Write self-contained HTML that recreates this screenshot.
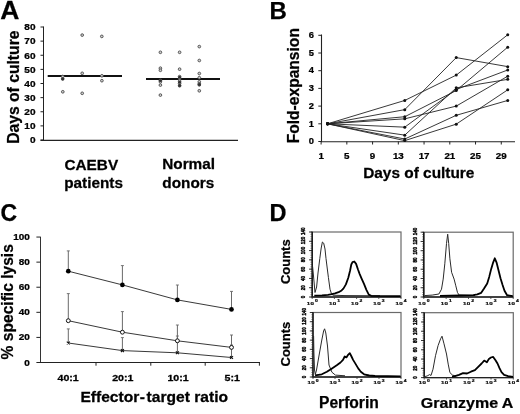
<!DOCTYPE html>
<html><head><meta charset="utf-8"><style>
html,body{margin:0;padding:0;background:#fff;}
svg{display:block;will-change:transform;}
text{font-family:"Liberation Sans",sans-serif;font-weight:bold;stroke:#000;stroke-width:0.25px;}
</style></head><body>
<svg width="520" height="414" viewBox="0 0 520 414">
<rect width="520" height="414" fill="#fff"/>
<text transform="translate(0.3,19) scale(1.06,1.0)" x="0" y="0" font-size="25" text-anchor="start" fill="#000" stroke="#000" stroke-width="0.4">A</text>
<line x1="43.5" y1="26.5" x2="43.5" y2="140.5" stroke="#222" stroke-width="1.0"/>
<line x1="40.5" y1="140.4" x2="238" y2="140.4" stroke="#222" stroke-width="1.1"/>
<line x1="40.5" y1="140.0" x2="43.5" y2="140.0" stroke="#222" stroke-width="1"/>
<text transform="translate(35.5,143.3) scale(1.12,1.0)" x="0" y="0" font-size="9" text-anchor="end" fill="#000" >0</text>
<line x1="40.5" y1="125.875" x2="43.5" y2="125.875" stroke="#222" stroke-width="1"/>
<text transform="translate(35.5,129.175) scale(1.12,1.0)" x="0" y="0" font-size="9" text-anchor="end" fill="#000" >10</text>
<line x1="40.5" y1="111.75" x2="43.5" y2="111.75" stroke="#222" stroke-width="1"/>
<text transform="translate(35.5,115.05) scale(1.12,1.0)" x="0" y="0" font-size="9" text-anchor="end" fill="#000" >20</text>
<line x1="40.5" y1="97.625" x2="43.5" y2="97.625" stroke="#222" stroke-width="1"/>
<text transform="translate(35.5,100.925) scale(1.12,1.0)" x="0" y="0" font-size="9" text-anchor="end" fill="#000" >30</text>
<line x1="40.5" y1="83.5" x2="43.5" y2="83.5" stroke="#222" stroke-width="1"/>
<text transform="translate(35.5,86.8) scale(1.12,1.0)" x="0" y="0" font-size="9" text-anchor="end" fill="#000" >40</text>
<line x1="40.5" y1="69.375" x2="43.5" y2="69.375" stroke="#222" stroke-width="1"/>
<text transform="translate(35.5,72.675) scale(1.12,1.0)" x="0" y="0" font-size="9" text-anchor="end" fill="#000" >50</text>
<line x1="40.5" y1="55.25" x2="43.5" y2="55.25" stroke="#222" stroke-width="1"/>
<text transform="translate(35.5,58.55) scale(1.12,1.0)" x="0" y="0" font-size="9" text-anchor="end" fill="#000" >60</text>
<line x1="40.5" y1="41.125" x2="43.5" y2="41.125" stroke="#222" stroke-width="1"/>
<text transform="translate(35.5,44.425) scale(1.12,1.0)" x="0" y="0" font-size="9" text-anchor="end" fill="#000" >70</text>
<line x1="40.5" y1="27.0" x2="43.5" y2="27.0" stroke="#222" stroke-width="1"/>
<text transform="translate(35.5,30.3) scale(1.12,1.0)" x="0" y="0" font-size="9" text-anchor="end" fill="#000" >80</text>
<text transform="translate(19.4,87.2) rotate(-90) scale(1.0,1.08)" x="0" y="0" font-size="15.7" text-anchor="middle" fill="#000" >Days of culture</text>
<line x1="47.7" y1="76.0" x2="122" y2="76.0" stroke="#111" stroke-width="2.0"/>
<line x1="146" y1="78.9" x2="220" y2="78.9" stroke="#111" stroke-width="2.0"/>
<circle cx="62.7" cy="76.5" r="1.35" fill="#d0d0d0" stroke="#4a4a4a" stroke-width="0.9"/>
<circle cx="62.7" cy="78.8" r="1.35" fill="#d0d0d0" stroke="#4a4a4a" stroke-width="0.9"/>
<circle cx="62.8" cy="91.8" r="1.35" fill="#d0d0d0" stroke="#4a4a4a" stroke-width="0.9"/>
<circle cx="82.2" cy="35.1" r="1.35" fill="#d0d0d0" stroke="#4a4a4a" stroke-width="0.9"/>
<circle cx="82.2" cy="73.3" r="1.35" fill="#d0d0d0" stroke="#4a4a4a" stroke-width="0.9"/>
<circle cx="82.2" cy="93.3" r="1.35" fill="#d0d0d0" stroke="#4a4a4a" stroke-width="0.9"/>
<circle cx="101.8" cy="36.4" r="1.35" fill="#d0d0d0" stroke="#4a4a4a" stroke-width="0.9"/>
<circle cx="101.9" cy="75.8" r="1.35" fill="#d0d0d0" stroke="#4a4a4a" stroke-width="0.9"/>
<circle cx="101.9" cy="80.7" r="1.35" fill="#d0d0d0" stroke="#4a4a4a" stroke-width="0.9"/>
<circle cx="160.4" cy="52.3" r="1.35" fill="#d0d0d0" stroke="#4a4a4a" stroke-width="0.9"/>
<circle cx="160.4" cy="68.2" r="1.35" fill="#d0d0d0" stroke="#4a4a4a" stroke-width="0.9"/>
<circle cx="160.4" cy="70.3" r="1.35" fill="#d0d0d0" stroke="#4a4a4a" stroke-width="0.9"/>
<circle cx="160.4" cy="80.3" r="1.35" fill="#d0d0d0" stroke="#4a4a4a" stroke-width="0.9"/>
<circle cx="160.4" cy="81.8" r="1.35" fill="#d0d0d0" stroke="#4a4a4a" stroke-width="0.9"/>
<circle cx="160.4" cy="85.1" r="1.35" fill="#d0d0d0" stroke="#4a4a4a" stroke-width="0.9"/>
<circle cx="160.4" cy="95.1" r="1.35" fill="#d0d0d0" stroke="#4a4a4a" stroke-width="0.9"/>
<circle cx="179.6" cy="52.3" r="1.35" fill="#d0d0d0" stroke="#4a4a4a" stroke-width="0.9"/>
<circle cx="179.6" cy="69.2" r="1.35" fill="#d0d0d0" stroke="#4a4a4a" stroke-width="0.9"/>
<circle cx="179.6" cy="76.6" r="1.35" fill="#d0d0d0" stroke="#4a4a4a" stroke-width="0.9"/>
<circle cx="179.6" cy="78.8" r="1.35" fill="#d0d0d0" stroke="#4a4a4a" stroke-width="0.9"/>
<circle cx="179.6" cy="81.2" r="1.35" fill="#d0d0d0" stroke="#4a4a4a" stroke-width="0.9"/>
<circle cx="179.6" cy="83.5" r="1.35" fill="#d0d0d0" stroke="#4a4a4a" stroke-width="0.9"/>
<circle cx="179.6" cy="85.8" r="1.35" fill="#d0d0d0" stroke="#4a4a4a" stroke-width="0.9"/>
<circle cx="199.3" cy="46.6" r="1.35" fill="#d0d0d0" stroke="#4a4a4a" stroke-width="0.9"/>
<circle cx="199.3" cy="60.5" r="1.35" fill="#d0d0d0" stroke="#4a4a4a" stroke-width="0.9"/>
<circle cx="199.3" cy="73.5" r="1.35" fill="#d0d0d0" stroke="#4a4a4a" stroke-width="0.9"/>
<circle cx="199.3" cy="77.7" r="1.35" fill="#d0d0d0" stroke="#4a4a4a" stroke-width="0.9"/>
<circle cx="199.3" cy="81.8" r="1.35" fill="#d0d0d0" stroke="#4a4a4a" stroke-width="0.9"/>
<circle cx="199.3" cy="83.8" r="1.35" fill="#d0d0d0" stroke="#4a4a4a" stroke-width="0.9"/>
<circle cx="199.3" cy="84.9" r="1.35" fill="#d0d0d0" stroke="#4a4a4a" stroke-width="0.9"/>
<circle cx="199.3" cy="90.8" r="1.35" fill="#d0d0d0" stroke="#4a4a4a" stroke-width="0.9"/>
<circle cx="160.4" cy="80.6" r="1.5" fill="#333"/>
<circle cx="179.6" cy="77.2" r="1.5" fill="#333"/>
<circle cx="179.6" cy="82.3" r="1.5" fill="#333"/>
<circle cx="179.6" cy="85.6" r="1.5" fill="#333"/>
<circle cx="199.3" cy="84.4" r="1.5" fill="#333"/>
<circle cx="62.7" cy="78.9" r="1.5" fill="#333"/>
<text transform="translate(91.3,170) scale(1.08,1.0)" x="0" y="0" font-size="14.2" text-anchor="middle" fill="#000" >CAEBV</text>
<text transform="translate(93.6,188) scale(1.08,1.0)" x="0" y="0" font-size="14.2" text-anchor="middle" fill="#000" >patients</text>
<text transform="translate(188.6,169) scale(1.08,1.0)" x="0" y="0" font-size="14.2" text-anchor="middle" fill="#000" >Normal</text>
<text transform="translate(188.3,187.5) scale(1.08,1.0)" x="0" y="0" font-size="14.2" text-anchor="middle" fill="#000" >donors</text>
<text x="269.5" y="19" font-size="24" text-anchor="start" fill="#000" stroke="#000" stroke-width="0.4">B</text>
<line x1="321.5" y1="34.5" x2="321.5" y2="142.0" stroke="#222" stroke-width="1.1"/>
<line x1="321.0" y1="141.8" x2="515" y2="141.8" stroke="#222" stroke-width="1.1"/>
<line x1="318.3" y1="141.5" x2="321.5" y2="141.5" stroke="#222" stroke-width="1"/>
<text transform="translate(311.4,144.2) scale(1.12,1.0)" x="0" y="0" font-size="8.3" text-anchor="middle" fill="#000" >0</text>
<line x1="318.3" y1="123.8" x2="321.5" y2="123.8" stroke="#222" stroke-width="1"/>
<text transform="translate(311.4,126.5) scale(1.12,1.0)" x="0" y="0" font-size="8.3" text-anchor="middle" fill="#000" >1</text>
<line x1="318.3" y1="106.1" x2="321.5" y2="106.1" stroke="#222" stroke-width="1"/>
<text transform="translate(311.4,108.8) scale(1.12,1.0)" x="0" y="0" font-size="8.3" text-anchor="middle" fill="#000" >2</text>
<line x1="318.3" y1="88.4" x2="321.5" y2="88.4" stroke="#222" stroke-width="1"/>
<text transform="translate(311.4,91.10000000000001) scale(1.12,1.0)" x="0" y="0" font-size="8.3" text-anchor="middle" fill="#000" >3</text>
<line x1="318.3" y1="70.7" x2="321.5" y2="70.7" stroke="#222" stroke-width="1"/>
<text transform="translate(311.4,73.4) scale(1.12,1.0)" x="0" y="0" font-size="8.3" text-anchor="middle" fill="#000" >4</text>
<line x1="318.3" y1="53.0" x2="321.5" y2="53.0" stroke="#222" stroke-width="1"/>
<text transform="translate(311.4,55.7) scale(1.12,1.0)" x="0" y="0" font-size="8.3" text-anchor="middle" fill="#000" >5</text>
<line x1="318.3" y1="35.30000000000001" x2="321.5" y2="35.30000000000001" stroke="#222" stroke-width="1"/>
<text transform="translate(311.4,38.000000000000014) scale(1.12,1.0)" x="0" y="0" font-size="8.3" text-anchor="middle" fill="#000" >6</text>
<line x1="321.1" y1="141.5" x2="321.1" y2="144.5" stroke="#222" stroke-width="1"/>
<text transform="translate(321.1,159.3) scale(1.15,1.0)" x="0" y="0" font-size="8.5" text-anchor="middle" fill="#000" >1</text>
<line x1="346.84000000000003" y1="141.5" x2="346.84000000000003" y2="144.5" stroke="#222" stroke-width="1"/>
<text transform="translate(346.84000000000003,159.3) scale(1.15,1.0)" x="0" y="0" font-size="8.5" text-anchor="middle" fill="#000" >5</text>
<line x1="372.58000000000004" y1="141.5" x2="372.58000000000004" y2="144.5" stroke="#222" stroke-width="1"/>
<text transform="translate(372.58000000000004,159.3) scale(1.15,1.0)" x="0" y="0" font-size="8.5" text-anchor="middle" fill="#000" >9</text>
<line x1="398.32000000000005" y1="141.5" x2="398.32000000000005" y2="144.5" stroke="#222" stroke-width="1"/>
<text transform="translate(398.32000000000005,159.3) scale(1.15,1.0)" x="0" y="0" font-size="8.5" text-anchor="middle" fill="#000" >13</text>
<line x1="424.06" y1="141.5" x2="424.06" y2="144.5" stroke="#222" stroke-width="1"/>
<text transform="translate(424.06,159.3) scale(1.15,1.0)" x="0" y="0" font-size="8.5" text-anchor="middle" fill="#000" >17</text>
<line x1="449.8" y1="141.5" x2="449.8" y2="144.5" stroke="#222" stroke-width="1"/>
<text transform="translate(449.8,159.3) scale(1.15,1.0)" x="0" y="0" font-size="8.5" text-anchor="middle" fill="#000" >21</text>
<line x1="475.54" y1="141.5" x2="475.54" y2="144.5" stroke="#222" stroke-width="1"/>
<text transform="translate(475.54,159.3) scale(1.15,1.0)" x="0" y="0" font-size="8.5" text-anchor="middle" fill="#000" >25</text>
<line x1="501.28" y1="141.5" x2="501.28" y2="144.5" stroke="#222" stroke-width="1"/>
<text transform="translate(501.28,159.3) scale(1.15,1.0)" x="0" y="0" font-size="8.5" text-anchor="middle" fill="#000" >29</text>
<text transform="translate(298.6,85.7) rotate(-90) scale(1.0,1.0)" x="0" y="0" font-size="15.6" text-anchor="middle" fill="#000" >Fold-expansion</text>
<text transform="translate(418.8,177.7) scale(1.07,1.0)" x="0" y="0" font-size="14.4" text-anchor="middle" fill="#000" >Days of culture</text>
<polyline points="327.54,123.80 404.75,100.44 456.24,75.12 507.72,34.77" fill="none" stroke="#222" stroke-width="0.9"/>
<polyline points="327.54,123.80 404.75,109.64 456.24,57.60 507.72,66.63" fill="none" stroke="#222" stroke-width="0.9"/>
<polyline points="327.54,123.80 404.75,116.72 456.24,90.52 507.72,47.16" fill="none" stroke="#222" stroke-width="0.9"/>
<polyline points="327.54,123.80 404.75,118.84 456.24,106.10 507.72,76.19" fill="none" stroke="#222" stroke-width="0.9"/>
<polyline points="327.54,123.80 404.75,127.16 456.24,89.46 507.72,69.99" fill="none" stroke="#222" stroke-width="0.9"/>
<polyline points="327.54,123.80 404.75,135.13 456.24,87.87 507.72,79.37" fill="none" stroke="#222" stroke-width="0.9"/>
<polyline points="327.54,123.80 404.75,139.02 456.24,115.30 507.72,100.44" fill="none" stroke="#222" stroke-width="0.9"/>
<polyline points="327.54,123.80 404.75,140.62 456.24,124.15 507.72,89.82" fill="none" stroke="#222" stroke-width="0.9"/>
<circle cx="327.54" cy="123.80" r="1.5" fill="#111"/>
<circle cx="404.75" cy="100.44" r="1.5" fill="#111"/>
<circle cx="456.24" cy="75.12" r="1.5" fill="#111"/>
<circle cx="507.72" cy="34.77" r="1.5" fill="#111"/>
<circle cx="327.54" cy="123.80" r="1.5" fill="#111"/>
<circle cx="404.75" cy="109.64" r="1.5" fill="#111"/>
<circle cx="456.24" cy="57.60" r="1.5" fill="#111"/>
<circle cx="507.72" cy="66.63" r="1.5" fill="#111"/>
<circle cx="327.54" cy="123.80" r="1.5" fill="#111"/>
<circle cx="404.75" cy="116.72" r="1.5" fill="#111"/>
<circle cx="456.24" cy="90.52" r="1.5" fill="#111"/>
<circle cx="507.72" cy="47.16" r="1.5" fill="#111"/>
<circle cx="327.54" cy="123.80" r="1.5" fill="#111"/>
<circle cx="404.75" cy="118.84" r="1.5" fill="#111"/>
<circle cx="456.24" cy="106.10" r="1.5" fill="#111"/>
<circle cx="507.72" cy="76.19" r="1.5" fill="#111"/>
<circle cx="327.54" cy="123.80" r="1.5" fill="#111"/>
<circle cx="404.75" cy="127.16" r="1.5" fill="#111"/>
<circle cx="456.24" cy="89.46" r="1.5" fill="#111"/>
<circle cx="507.72" cy="69.99" r="1.5" fill="#111"/>
<circle cx="327.54" cy="123.80" r="1.5" fill="#111"/>
<circle cx="404.75" cy="135.13" r="1.5" fill="#111"/>
<circle cx="456.24" cy="87.87" r="1.5" fill="#111"/>
<circle cx="507.72" cy="79.37" r="1.5" fill="#111"/>
<circle cx="327.54" cy="123.80" r="1.5" fill="#111"/>
<circle cx="404.75" cy="139.02" r="1.5" fill="#111"/>
<circle cx="456.24" cy="115.30" r="1.5" fill="#111"/>
<circle cx="507.72" cy="100.44" r="1.5" fill="#111"/>
<circle cx="327.54" cy="123.80" r="1.5" fill="#111"/>
<circle cx="404.75" cy="140.62" r="1.5" fill="#111"/>
<circle cx="456.24" cy="124.15" r="1.5" fill="#111"/>
<circle cx="507.72" cy="89.82" r="1.5" fill="#111"/>
<text x="0.5" y="221.4" font-size="23" text-anchor="start" fill="#000" stroke="#000" stroke-width="0.4">C</text>
<line x1="40.5" y1="236.8" x2="40.5" y2="363.0" stroke="#333" stroke-width="1.0"/>
<line x1="40.0" y1="362.5" x2="260" y2="362.5" stroke="#222" stroke-width="1.1"/>
<line x1="36.4" y1="362.5" x2="40.5" y2="362.5" stroke="#222" stroke-width="1"/>
<text transform="translate(29.8,365.5) scale(1.2,1.0)" x="0" y="0" font-size="8.3" text-anchor="end" fill="#000" >0</text>
<line x1="36.4" y1="337.41" x2="40.5" y2="337.41" stroke="#222" stroke-width="1"/>
<text transform="translate(29.8,340.41) scale(1.2,1.0)" x="0" y="0" font-size="8.3" text-anchor="end" fill="#000" >20</text>
<line x1="36.4" y1="312.32" x2="40.5" y2="312.32" stroke="#222" stroke-width="1"/>
<text transform="translate(29.8,315.32) scale(1.2,1.0)" x="0" y="0" font-size="8.3" text-anchor="end" fill="#000" >40</text>
<line x1="36.4" y1="287.23" x2="40.5" y2="287.23" stroke="#222" stroke-width="1"/>
<text transform="translate(29.8,290.23) scale(1.2,1.0)" x="0" y="0" font-size="8.3" text-anchor="end" fill="#000" >60</text>
<line x1="36.4" y1="262.14" x2="40.5" y2="262.14" stroke="#222" stroke-width="1"/>
<text transform="translate(29.8,265.14) scale(1.2,1.0)" x="0" y="0" font-size="8.3" text-anchor="end" fill="#000" >80</text>
<line x1="36.4" y1="237.05" x2="40.5" y2="237.05" stroke="#222" stroke-width="1"/>
<text transform="translate(29.8,240.05) scale(1.2,1.0)" x="0" y="0" font-size="8.3" text-anchor="end" fill="#000" >100</text>
<line x1="96" y1="362.5" x2="96" y2="365.7" stroke="#222" stroke-width="1"/>
<line x1="150.8" y1="362.5" x2="150.8" y2="365.7" stroke="#222" stroke-width="1"/>
<line x1="205.2" y1="362.5" x2="205.2" y2="365.7" stroke="#222" stroke-width="1"/>
<line x1="259.4" y1="362.5" x2="259.4" y2="365.7" stroke="#222" stroke-width="1"/>
<text transform="translate(68.1,381.3) scale(1.25,1.0)" x="0" y="0" font-size="8.5" text-anchor="middle" fill="#000" >40:1</text>
<text transform="translate(122.8,381.3) scale(1.25,1.0)" x="0" y="0" font-size="8.5" text-anchor="middle" fill="#000" >20:1</text>
<text transform="translate(178,381.3) scale(1.25,1.0)" x="0" y="0" font-size="8.5" text-anchor="middle" fill="#000" >10:1</text>
<text transform="translate(232.2,381.3) scale(1.25,1.0)" x="0" y="0" font-size="8.5" text-anchor="middle" fill="#000" >5:1</text>
<text transform="translate(12.6,301.8) rotate(-90) scale(1.0,1.0)" x="0" y="0" font-size="15.6" text-anchor="middle" fill="#000" >% specific lysis</text>
<text transform="translate(154.2,402) scale(1.115,1.0)" x="0" y="0" font-size="14" text-anchor="middle" fill="#000" >Effector<tspan dx="0.4">-</tspan><tspan dx="1.4">target ratio</tspan></text>
<line x1="68.3" y1="271.2" x2="68.3" y2="250.9" stroke="#6a6a6a" stroke-width="1.0"/>
<line x1="66.8" y1="250.9" x2="69.8" y2="250.9" stroke="#6a6a6a" stroke-width="0.9"/>
<line x1="122.4" y1="284.9" x2="122.4" y2="265.6" stroke="#6a6a6a" stroke-width="1.0"/>
<line x1="120.9" y1="265.6" x2="123.9" y2="265.6" stroke="#6a6a6a" stroke-width="0.9"/>
<line x1="177.4" y1="299.9" x2="177.4" y2="285" stroke="#6a6a6a" stroke-width="1.0"/>
<line x1="175.9" y1="285" x2="178.9" y2="285" stroke="#6a6a6a" stroke-width="0.9"/>
<line x1="231.5" y1="309.4" x2="231.5" y2="291.4" stroke="#6a6a6a" stroke-width="1.0"/>
<line x1="230.0" y1="291.4" x2="233.0" y2="291.4" stroke="#6a6a6a" stroke-width="0.9"/>
<line x1="68.3" y1="320.7" x2="68.3" y2="293.6" stroke="#6a6a6a" stroke-width="1.0"/>
<line x1="66.8" y1="293.6" x2="69.8" y2="293.6" stroke="#6a6a6a" stroke-width="0.9"/>
<line x1="122.4" y1="332.2" x2="122.4" y2="311.6" stroke="#6a6a6a" stroke-width="1.0"/>
<line x1="120.9" y1="311.6" x2="123.9" y2="311.6" stroke="#6a6a6a" stroke-width="0.9"/>
<line x1="177.4" y1="340.8" x2="177.4" y2="325" stroke="#6a6a6a" stroke-width="1.0"/>
<line x1="175.9" y1="325" x2="178.9" y2="325" stroke="#6a6a6a" stroke-width="0.9"/>
<line x1="231.5" y1="347.4" x2="231.5" y2="335" stroke="#6a6a6a" stroke-width="1.0"/>
<line x1="230.0" y1="335" x2="233.0" y2="335" stroke="#6a6a6a" stroke-width="0.9"/>
<line x1="68.3" y1="343" x2="68.3" y2="328.9" stroke="#6a6a6a" stroke-width="1.0"/>
<line x1="66.8" y1="328.9" x2="69.8" y2="328.9" stroke="#6a6a6a" stroke-width="0.9"/>
<line x1="122.4" y1="350.6" x2="122.4" y2="337.6" stroke="#6a6a6a" stroke-width="1.0"/>
<line x1="120.9" y1="337.6" x2="123.9" y2="337.6" stroke="#6a6a6a" stroke-width="0.9"/>
<line x1="177.4" y1="352.8" x2="177.4" y2="336" stroke="#6a6a6a" stroke-width="1.0"/>
<line x1="175.9" y1="336" x2="178.9" y2="336" stroke="#6a6a6a" stroke-width="0.9"/>
<line x1="231.5" y1="357.5" x2="231.5" y2="345" stroke="#6a6a6a" stroke-width="1.0"/>
<line x1="230.0" y1="345" x2="233.0" y2="345" stroke="#6a6a6a" stroke-width="0.9"/>
<polyline points="68.3,271.2 122.4,284.9 177.4,299.9 231.5,309.4" fill="none" stroke="#222" stroke-width="0.9"/>
<polyline points="68.3,320.7 122.4,332.2 177.4,340.8 231.5,347.4" fill="none" stroke="#222" stroke-width="0.9"/>
<polyline points="68.3,343 122.4,350.6 177.4,352.8 231.5,357.5" fill="none" stroke="#222" stroke-width="0.9"/>
<circle cx="68.3" cy="271.2" r="2.35" fill="#000"/>
<circle cx="122.4" cy="284.9" r="2.35" fill="#000"/>
<circle cx="177.4" cy="299.9" r="2.35" fill="#000"/>
<circle cx="231.5" cy="309.4" r="2.35" fill="#000"/>
<circle cx="68.3" cy="320.7" r="1.95" fill="#fff" stroke="#111" stroke-width="1"/>
<circle cx="122.4" cy="332.2" r="1.95" fill="#fff" stroke="#111" stroke-width="1"/>
<circle cx="177.4" cy="340.8" r="1.95" fill="#fff" stroke="#111" stroke-width="1"/>
<circle cx="231.5" cy="347.4" r="1.95" fill="#fff" stroke="#111" stroke-width="1"/>
<path d="M66.8,341.6L69.8,344.4M66.8,344.4L69.8,341.6" stroke="#111" stroke-width="1.1"/>
<path d="M120.9,349.20000000000005L123.9,352.0M120.9,352.0L123.9,349.20000000000005" stroke="#111" stroke-width="1.1"/>
<path d="M175.9,351.40000000000003L178.9,354.2M175.9,354.2L178.9,351.40000000000003" stroke="#111" stroke-width="1.1"/>
<path d="M230.0,356.1L233.0,358.9M230.0,358.9L233.0,356.1" stroke="#111" stroke-width="1.1"/>
<text x="269.6" y="221" font-size="23.5" text-anchor="start" fill="#000" stroke="#000" stroke-width="0.4">D</text>
<rect x="312.2" y="232" width="88.80000000000001" height="65" fill="none" stroke="#6a6a6a" stroke-width="1.2"/>
<line x1="310.4" y1="297.0" x2="312.2" y2="297.0" stroke="#555" stroke-width="0.6"/>
<line x1="310.4" y1="294.67857142857144" x2="312.2" y2="294.67857142857144" stroke="#555" stroke-width="0.6"/>
<line x1="310.4" y1="292.35714285714283" x2="312.2" y2="292.35714285714283" stroke="#555" stroke-width="0.6"/>
<line x1="310.4" y1="290.0357142857143" x2="312.2" y2="290.0357142857143" stroke="#555" stroke-width="0.6"/>
<line x1="310.4" y1="287.7142857142857" x2="312.2" y2="287.7142857142857" stroke="#555" stroke-width="0.6"/>
<line x1="310.4" y1="285.39285714285717" x2="312.2" y2="285.39285714285717" stroke="#555" stroke-width="0.6"/>
<line x1="310.4" y1="283.07142857142856" x2="312.2" y2="283.07142857142856" stroke="#555" stroke-width="0.6"/>
<line x1="310.4" y1="280.75" x2="312.2" y2="280.75" stroke="#555" stroke-width="0.6"/>
<line x1="310.4" y1="278.42857142857144" x2="312.2" y2="278.42857142857144" stroke="#555" stroke-width="0.6"/>
<line x1="310.4" y1="276.10714285714283" x2="312.2" y2="276.10714285714283" stroke="#555" stroke-width="0.6"/>
<line x1="310.4" y1="273.7857142857143" x2="312.2" y2="273.7857142857143" stroke="#555" stroke-width="0.6"/>
<line x1="310.4" y1="271.4642857142857" x2="312.2" y2="271.4642857142857" stroke="#555" stroke-width="0.6"/>
<line x1="310.4" y1="269.14285714285717" x2="312.2" y2="269.14285714285717" stroke="#555" stroke-width="0.6"/>
<line x1="310.4" y1="266.82142857142856" x2="312.2" y2="266.82142857142856" stroke="#555" stroke-width="0.6"/>
<line x1="310.4" y1="264.5" x2="312.2" y2="264.5" stroke="#555" stroke-width="0.6"/>
<line x1="310.4" y1="262.17857142857144" x2="312.2" y2="262.17857142857144" stroke="#555" stroke-width="0.6"/>
<line x1="310.4" y1="259.85714285714283" x2="312.2" y2="259.85714285714283" stroke="#555" stroke-width="0.6"/>
<line x1="310.4" y1="257.5357142857143" x2="312.2" y2="257.5357142857143" stroke="#555" stroke-width="0.6"/>
<line x1="310.4" y1="255.21428571428572" x2="312.2" y2="255.21428571428572" stroke="#555" stroke-width="0.6"/>
<line x1="310.4" y1="252.89285714285714" x2="312.2" y2="252.89285714285714" stroke="#555" stroke-width="0.6"/>
<line x1="310.4" y1="250.57142857142856" x2="312.2" y2="250.57142857142856" stroke="#555" stroke-width="0.6"/>
<line x1="310.4" y1="248.25" x2="312.2" y2="248.25" stroke="#555" stroke-width="0.6"/>
<line x1="310.4" y1="245.92857142857144" x2="312.2" y2="245.92857142857144" stroke="#555" stroke-width="0.6"/>
<line x1="310.4" y1="243.60714285714286" x2="312.2" y2="243.60714285714286" stroke="#555" stroke-width="0.6"/>
<line x1="310.4" y1="241.28571428571428" x2="312.2" y2="241.28571428571428" stroke="#555" stroke-width="0.6"/>
<line x1="310.4" y1="238.96428571428572" x2="312.2" y2="238.96428571428572" stroke="#555" stroke-width="0.6"/>
<line x1="310.4" y1="236.64285714285714" x2="312.2" y2="236.64285714285714" stroke="#555" stroke-width="0.6"/>
<line x1="310.4" y1="234.32142857142856" x2="312.2" y2="234.32142857142856" stroke="#555" stroke-width="0.6"/>
<line x1="310.4" y1="232.0" x2="312.2" y2="232.0" stroke="#555" stroke-width="0.6"/>
<line x1="309.0" y1="297.0" x2="312.2" y2="297.0" stroke="#222" stroke-width="0.9"/>
<text transform="translate(305.0,297.0) rotate(-90) scale(1.0,1.25)" x="0" y="0" font-size="4.5" text-anchor="middle" fill="#000" style="stroke-width:0.35px">0</text>
<line x1="309.0" y1="287.7142857142857" x2="312.2" y2="287.7142857142857" stroke="#222" stroke-width="0.9"/>
<text transform="translate(305.0,287.7142857142857) rotate(-90) scale(1.0,1.25)" x="0" y="0" font-size="4.5" text-anchor="middle" fill="#000" style="stroke-width:0.35px">20</text>
<line x1="309.0" y1="278.42857142857144" x2="312.2" y2="278.42857142857144" stroke="#222" stroke-width="0.9"/>
<text transform="translate(305.0,278.42857142857144) rotate(-90) scale(1.0,1.25)" x="0" y="0" font-size="4.5" text-anchor="middle" fill="#000" style="stroke-width:0.35px">40</text>
<line x1="309.0" y1="269.14285714285717" x2="312.2" y2="269.14285714285717" stroke="#222" stroke-width="0.9"/>
<text transform="translate(305.0,269.14285714285717) rotate(-90) scale(1.0,1.25)" x="0" y="0" font-size="4.5" text-anchor="middle" fill="#000" style="stroke-width:0.35px">60</text>
<line x1="309.0" y1="259.85714285714283" x2="312.2" y2="259.85714285714283" stroke="#222" stroke-width="0.9"/>
<text transform="translate(305.0,259.85714285714283) rotate(-90) scale(1.0,1.25)" x="0" y="0" font-size="4.5" text-anchor="middle" fill="#000" style="stroke-width:0.35px">80</text>
<line x1="309.0" y1="250.57142857142856" x2="312.2" y2="250.57142857142856" stroke="#222" stroke-width="0.9"/>
<text transform="translate(305.0,250.57142857142856) rotate(-90) scale(1.0,1.25)" x="0" y="0" font-size="4.5" text-anchor="middle" fill="#000" style="stroke-width:0.35px">100</text>
<line x1="309.0" y1="241.28571428571428" x2="312.2" y2="241.28571428571428" stroke="#222" stroke-width="0.9"/>
<text transform="translate(305.0,240.48571428571427) rotate(-90) scale(1.0,1.25)" x="0" y="0" font-size="4.5" text-anchor="middle" fill="#000" style="stroke-width:0.35px">120</text>
<line x1="309.0" y1="232.0" x2="312.2" y2="232.0" stroke="#222" stroke-width="0.9"/>
<text transform="translate(305.0,231.2) rotate(-90) scale(1.0,1.25)" x="0" y="0" font-size="4.5" text-anchor="middle" fill="#000" style="stroke-width:0.35px">140</text>
<line x1="312.2" y1="231.7" x2="312.2" y2="297.5" stroke="#111" stroke-width="1.4"/>
<line x1="312.2" y1="297" x2="401" y2="297" stroke="#222" stroke-width="1.3"/>
<line x1="312.2" y1="297" x2="312.2" y2="299" stroke="#333" stroke-width="0.8"/>
<text transform="translate(312.5,304.7) scale(1.4,1)" font-size="4.4" letter-spacing="0.3" text-anchor="middle" fill="#111" style="stroke-width:0.2px">10<tspan font-size="3.6" dx="0.5" dy="-2.3">0</tspan></text>
<line x1="334.4" y1="297" x2="334.4" y2="299" stroke="#333" stroke-width="0.8"/>
<text transform="translate(334.7,304.7) scale(1.4,1)" font-size="4.4" letter-spacing="0.3" text-anchor="middle" fill="#111" style="stroke-width:0.2px">10<tspan font-size="3.6" dx="0.5" dy="-2.3">1</tspan></text>
<line x1="356.6" y1="297" x2="356.6" y2="299" stroke="#333" stroke-width="0.8"/>
<text transform="translate(356.9,304.7) scale(1.4,1)" font-size="4.4" letter-spacing="0.3" text-anchor="middle" fill="#111" style="stroke-width:0.2px">10<tspan font-size="3.6" dx="0.5" dy="-2.3">2</tspan></text>
<line x1="378.8" y1="297" x2="378.8" y2="299" stroke="#333" stroke-width="0.8"/>
<text transform="translate(379.1,304.7) scale(1.4,1)" font-size="4.4" letter-spacing="0.3" text-anchor="middle" fill="#111" style="stroke-width:0.2px">10<tspan font-size="3.6" dx="0.5" dy="-2.3">3</tspan></text>
<line x1="401.0" y1="297" x2="401.0" y2="299" stroke="#333" stroke-width="0.8"/>
<text transform="translate(401.3,304.7) scale(1.4,1)" font-size="4.4" letter-spacing="0.3" text-anchor="middle" fill="#111" style="stroke-width:0.2px">10<tspan font-size="3.6" dx="0.5" dy="-2.3">4</tspan></text>
<rect x="423.8" y="232.2" width="89.40000000000003" height="64.80000000000001" fill="none" stroke="#6a6a6a" stroke-width="1.2"/>
<line x1="422.0" y1="297.0" x2="423.8" y2="297.0" stroke="#555" stroke-width="0.6"/>
<line x1="422.0" y1="294.6857142857143" x2="423.8" y2="294.6857142857143" stroke="#555" stroke-width="0.6"/>
<line x1="422.0" y1="292.37142857142857" x2="423.8" y2="292.37142857142857" stroke="#555" stroke-width="0.6"/>
<line x1="422.0" y1="290.0571428571429" x2="423.8" y2="290.0571428571429" stroke="#555" stroke-width="0.6"/>
<line x1="422.0" y1="287.74285714285713" x2="423.8" y2="287.74285714285713" stroke="#555" stroke-width="0.6"/>
<line x1="422.0" y1="285.42857142857144" x2="423.8" y2="285.42857142857144" stroke="#555" stroke-width="0.6"/>
<line x1="422.0" y1="283.1142857142857" x2="423.8" y2="283.1142857142857" stroke="#555" stroke-width="0.6"/>
<line x1="422.0" y1="280.8" x2="423.8" y2="280.8" stroke="#555" stroke-width="0.6"/>
<line x1="422.0" y1="278.48571428571427" x2="423.8" y2="278.48571428571427" stroke="#555" stroke-width="0.6"/>
<line x1="422.0" y1="276.1714285714286" x2="423.8" y2="276.1714285714286" stroke="#555" stroke-width="0.6"/>
<line x1="422.0" y1="273.85714285714283" x2="423.8" y2="273.85714285714283" stroke="#555" stroke-width="0.6"/>
<line x1="422.0" y1="271.54285714285714" x2="423.8" y2="271.54285714285714" stroke="#555" stroke-width="0.6"/>
<line x1="422.0" y1="269.2285714285714" x2="423.8" y2="269.2285714285714" stroke="#555" stroke-width="0.6"/>
<line x1="422.0" y1="266.9142857142857" x2="423.8" y2="266.9142857142857" stroke="#555" stroke-width="0.6"/>
<line x1="422.0" y1="264.6" x2="423.8" y2="264.6" stroke="#555" stroke-width="0.6"/>
<line x1="422.0" y1="262.2857142857143" x2="423.8" y2="262.2857142857143" stroke="#555" stroke-width="0.6"/>
<line x1="422.0" y1="259.9714285714286" x2="423.8" y2="259.9714285714286" stroke="#555" stroke-width="0.6"/>
<line x1="422.0" y1="257.65714285714284" x2="423.8" y2="257.65714285714284" stroke="#555" stroke-width="0.6"/>
<line x1="422.0" y1="255.34285714285716" x2="423.8" y2="255.34285714285716" stroke="#555" stroke-width="0.6"/>
<line x1="422.0" y1="253.0285714285714" x2="423.8" y2="253.0285714285714" stroke="#555" stroke-width="0.6"/>
<line x1="422.0" y1="250.71428571428572" x2="423.8" y2="250.71428571428572" stroke="#555" stroke-width="0.6"/>
<line x1="422.0" y1="248.39999999999998" x2="423.8" y2="248.39999999999998" stroke="#555" stroke-width="0.6"/>
<line x1="422.0" y1="246.0857142857143" x2="423.8" y2="246.0857142857143" stroke="#555" stroke-width="0.6"/>
<line x1="422.0" y1="243.77142857142854" x2="423.8" y2="243.77142857142854" stroke="#555" stroke-width="0.6"/>
<line x1="422.0" y1="241.45714285714286" x2="423.8" y2="241.45714285714286" stroke="#555" stroke-width="0.6"/>
<line x1="422.0" y1="239.14285714285714" x2="423.8" y2="239.14285714285714" stroke="#555" stroke-width="0.6"/>
<line x1="422.0" y1="236.82857142857142" x2="423.8" y2="236.82857142857142" stroke="#555" stroke-width="0.6"/>
<line x1="422.0" y1="234.5142857142857" x2="423.8" y2="234.5142857142857" stroke="#555" stroke-width="0.6"/>
<line x1="422.0" y1="232.2" x2="423.8" y2="232.2" stroke="#555" stroke-width="0.6"/>
<line x1="420.6" y1="297.0" x2="423.8" y2="297.0" stroke="#222" stroke-width="0.9"/>
<text transform="translate(416.6,297.0) rotate(-90) scale(1.0,1.25)" x="0" y="0" font-size="4.5" text-anchor="middle" fill="#000" style="stroke-width:0.35px">0</text>
<line x1="420.6" y1="287.74285714285713" x2="423.8" y2="287.74285714285713" stroke="#222" stroke-width="0.9"/>
<text transform="translate(416.6,287.74285714285713) rotate(-90) scale(1.0,1.25)" x="0" y="0" font-size="4.5" text-anchor="middle" fill="#000" style="stroke-width:0.35px">20</text>
<line x1="420.6" y1="278.48571428571427" x2="423.8" y2="278.48571428571427" stroke="#222" stroke-width="0.9"/>
<text transform="translate(416.6,278.48571428571427) rotate(-90) scale(1.0,1.25)" x="0" y="0" font-size="4.5" text-anchor="middle" fill="#000" style="stroke-width:0.35px">40</text>
<line x1="420.6" y1="269.2285714285714" x2="423.8" y2="269.2285714285714" stroke="#222" stroke-width="0.9"/>
<text transform="translate(416.6,269.2285714285714) rotate(-90) scale(1.0,1.25)" x="0" y="0" font-size="4.5" text-anchor="middle" fill="#000" style="stroke-width:0.35px">60</text>
<line x1="420.6" y1="259.9714285714286" x2="423.8" y2="259.9714285714286" stroke="#222" stroke-width="0.9"/>
<text transform="translate(416.6,259.9714285714286) rotate(-90) scale(1.0,1.25)" x="0" y="0" font-size="4.5" text-anchor="middle" fill="#000" style="stroke-width:0.35px">80</text>
<line x1="420.6" y1="250.71428571428572" x2="423.8" y2="250.71428571428572" stroke="#222" stroke-width="0.9"/>
<text transform="translate(416.6,250.71428571428572) rotate(-90) scale(1.0,1.25)" x="0" y="0" font-size="4.5" text-anchor="middle" fill="#000" style="stroke-width:0.35px">100</text>
<line x1="420.6" y1="241.45714285714286" x2="423.8" y2="241.45714285714286" stroke="#222" stroke-width="0.9"/>
<text transform="translate(416.6,240.65714285714284) rotate(-90) scale(1.0,1.25)" x="0" y="0" font-size="4.5" text-anchor="middle" fill="#000" style="stroke-width:0.35px">120</text>
<line x1="420.6" y1="232.2" x2="423.8" y2="232.2" stroke="#222" stroke-width="0.9"/>
<text transform="translate(416.6,231.39999999999998) rotate(-90) scale(1.0,1.25)" x="0" y="0" font-size="4.5" text-anchor="middle" fill="#000" style="stroke-width:0.35px">140</text>
<line x1="423.8" y1="231.89999999999998" x2="423.8" y2="297.5" stroke="#111" stroke-width="1.4"/>
<line x1="423.8" y1="297" x2="513.2" y2="297" stroke="#222" stroke-width="1.3"/>
<line x1="423.8" y1="297" x2="423.8" y2="299" stroke="#333" stroke-width="0.8"/>
<text transform="translate(424.1,304.7) scale(1.4,1)" font-size="4.4" letter-spacing="0.3" text-anchor="middle" fill="#111" style="stroke-width:0.2px">10<tspan font-size="3.6" dx="0.5" dy="-2.3">0</tspan></text>
<line x1="446.15000000000003" y1="297" x2="446.15000000000003" y2="299" stroke="#333" stroke-width="0.8"/>
<text transform="translate(446.5,304.7) scale(1.4,1)" font-size="4.4" letter-spacing="0.3" text-anchor="middle" fill="#111" style="stroke-width:0.2px">10<tspan font-size="3.6" dx="0.5" dy="-2.3">1</tspan></text>
<line x1="468.5" y1="297" x2="468.5" y2="299" stroke="#333" stroke-width="0.8"/>
<text transform="translate(468.8,304.7) scale(1.4,1)" font-size="4.4" letter-spacing="0.3" text-anchor="middle" fill="#111" style="stroke-width:0.2px">10<tspan font-size="3.6" dx="0.5" dy="-2.3">2</tspan></text>
<line x1="490.85" y1="297" x2="490.85" y2="299" stroke="#333" stroke-width="0.8"/>
<text transform="translate(491.2,304.7) scale(1.4,1)" font-size="4.4" letter-spacing="0.3" text-anchor="middle" fill="#111" style="stroke-width:0.2px">10<tspan font-size="3.6" dx="0.5" dy="-2.3">3</tspan></text>
<line x1="513.2" y1="297" x2="513.2" y2="299" stroke="#333" stroke-width="0.8"/>
<text transform="translate(513.5,304.7) scale(1.4,1)" font-size="4.4" letter-spacing="0.3" text-anchor="middle" fill="#111" style="stroke-width:0.2px">10<tspan font-size="3.6" dx="0.5" dy="-2.3">4</tspan></text>
<rect x="313" y="312.5" width="88" height="64.5" fill="none" stroke="#6a6a6a" stroke-width="1.2"/>
<line x1="311.2" y1="377.0" x2="313" y2="377.0" stroke="#555" stroke-width="0.6"/>
<line x1="311.2" y1="374.69642857142856" x2="313" y2="374.69642857142856" stroke="#555" stroke-width="0.6"/>
<line x1="311.2" y1="372.39285714285717" x2="313" y2="372.39285714285717" stroke="#555" stroke-width="0.6"/>
<line x1="311.2" y1="370.0892857142857" x2="313" y2="370.0892857142857" stroke="#555" stroke-width="0.6"/>
<line x1="311.2" y1="367.7857142857143" x2="313" y2="367.7857142857143" stroke="#555" stroke-width="0.6"/>
<line x1="311.2" y1="365.48214285714283" x2="313" y2="365.48214285714283" stroke="#555" stroke-width="0.6"/>
<line x1="311.2" y1="363.17857142857144" x2="313" y2="363.17857142857144" stroke="#555" stroke-width="0.6"/>
<line x1="311.2" y1="360.875" x2="313" y2="360.875" stroke="#555" stroke-width="0.6"/>
<line x1="311.2" y1="358.57142857142856" x2="313" y2="358.57142857142856" stroke="#555" stroke-width="0.6"/>
<line x1="311.2" y1="356.26785714285717" x2="313" y2="356.26785714285717" stroke="#555" stroke-width="0.6"/>
<line x1="311.2" y1="353.9642857142857" x2="313" y2="353.9642857142857" stroke="#555" stroke-width="0.6"/>
<line x1="311.2" y1="351.6607142857143" x2="313" y2="351.6607142857143" stroke="#555" stroke-width="0.6"/>
<line x1="311.2" y1="349.35714285714283" x2="313" y2="349.35714285714283" stroke="#555" stroke-width="0.6"/>
<line x1="311.2" y1="347.05357142857144" x2="313" y2="347.05357142857144" stroke="#555" stroke-width="0.6"/>
<line x1="311.2" y1="344.75" x2="313" y2="344.75" stroke="#555" stroke-width="0.6"/>
<line x1="311.2" y1="342.44642857142856" x2="313" y2="342.44642857142856" stroke="#555" stroke-width="0.6"/>
<line x1="311.2" y1="340.14285714285717" x2="313" y2="340.14285714285717" stroke="#555" stroke-width="0.6"/>
<line x1="311.2" y1="337.8392857142857" x2="313" y2="337.8392857142857" stroke="#555" stroke-width="0.6"/>
<line x1="311.2" y1="335.5357142857143" x2="313" y2="335.5357142857143" stroke="#555" stroke-width="0.6"/>
<line x1="311.2" y1="333.23214285714283" x2="313" y2="333.23214285714283" stroke="#555" stroke-width="0.6"/>
<line x1="311.2" y1="330.92857142857144" x2="313" y2="330.92857142857144" stroke="#555" stroke-width="0.6"/>
<line x1="311.2" y1="328.625" x2="313" y2="328.625" stroke="#555" stroke-width="0.6"/>
<line x1="311.2" y1="326.32142857142856" x2="313" y2="326.32142857142856" stroke="#555" stroke-width="0.6"/>
<line x1="311.2" y1="324.01785714285717" x2="313" y2="324.01785714285717" stroke="#555" stroke-width="0.6"/>
<line x1="311.2" y1="321.7142857142857" x2="313" y2="321.7142857142857" stroke="#555" stroke-width="0.6"/>
<line x1="311.2" y1="319.4107142857143" x2="313" y2="319.4107142857143" stroke="#555" stroke-width="0.6"/>
<line x1="311.2" y1="317.10714285714283" x2="313" y2="317.10714285714283" stroke="#555" stroke-width="0.6"/>
<line x1="311.2" y1="314.80357142857144" x2="313" y2="314.80357142857144" stroke="#555" stroke-width="0.6"/>
<line x1="311.2" y1="312.5" x2="313" y2="312.5" stroke="#555" stroke-width="0.6"/>
<line x1="309.8" y1="377.0" x2="313" y2="377.0" stroke="#222" stroke-width="0.9"/>
<text transform="translate(305.8,377.0) rotate(-90) scale(1.0,1.25)" x="0" y="0" font-size="4.5" text-anchor="middle" fill="#000" style="stroke-width:0.35px">0</text>
<line x1="309.8" y1="367.7857142857143" x2="313" y2="367.7857142857143" stroke="#222" stroke-width="0.9"/>
<text transform="translate(305.8,367.7857142857143) rotate(-90) scale(1.0,1.25)" x="0" y="0" font-size="4.5" text-anchor="middle" fill="#000" style="stroke-width:0.35px">20</text>
<line x1="309.8" y1="358.57142857142856" x2="313" y2="358.57142857142856" stroke="#222" stroke-width="0.9"/>
<text transform="translate(305.8,358.57142857142856) rotate(-90) scale(1.0,1.25)" x="0" y="0" font-size="4.5" text-anchor="middle" fill="#000" style="stroke-width:0.35px">40</text>
<line x1="309.8" y1="349.35714285714283" x2="313" y2="349.35714285714283" stroke="#222" stroke-width="0.9"/>
<text transform="translate(305.8,349.35714285714283) rotate(-90) scale(1.0,1.25)" x="0" y="0" font-size="4.5" text-anchor="middle" fill="#000" style="stroke-width:0.35px">60</text>
<line x1="309.8" y1="340.14285714285717" x2="313" y2="340.14285714285717" stroke="#222" stroke-width="0.9"/>
<text transform="translate(305.8,340.14285714285717) rotate(-90) scale(1.0,1.25)" x="0" y="0" font-size="4.5" text-anchor="middle" fill="#000" style="stroke-width:0.35px">80</text>
<line x1="309.8" y1="330.92857142857144" x2="313" y2="330.92857142857144" stroke="#222" stroke-width="0.9"/>
<text transform="translate(305.8,330.92857142857144) rotate(-90) scale(1.0,1.25)" x="0" y="0" font-size="4.5" text-anchor="middle" fill="#000" style="stroke-width:0.35px">100</text>
<line x1="309.8" y1="321.7142857142857" x2="313" y2="321.7142857142857" stroke="#222" stroke-width="0.9"/>
<text transform="translate(305.8,320.9142857142857) rotate(-90) scale(1.0,1.25)" x="0" y="0" font-size="4.5" text-anchor="middle" fill="#000" style="stroke-width:0.35px">120</text>
<line x1="309.8" y1="312.5" x2="313" y2="312.5" stroke="#222" stroke-width="0.9"/>
<text transform="translate(305.8,311.7) rotate(-90) scale(1.0,1.25)" x="0" y="0" font-size="4.5" text-anchor="middle" fill="#000" style="stroke-width:0.35px">140</text>
<line x1="313" y1="312.2" x2="313" y2="377.5" stroke="#111" stroke-width="1.4"/>
<line x1="313" y1="377" x2="401" y2="377" stroke="#222" stroke-width="1.3"/>
<line x1="313.0" y1="377" x2="313.0" y2="379" stroke="#333" stroke-width="0.8"/>
<text transform="translate(313.3,384.3) scale(1.4,1)" font-size="4.4" letter-spacing="0.3" text-anchor="middle" fill="#111" style="stroke-width:0.2px">10<tspan font-size="3.6" dx="0.5" dy="-2.3">0</tspan></text>
<line x1="335.0" y1="377" x2="335.0" y2="379" stroke="#333" stroke-width="0.8"/>
<text transform="translate(335.3,384.3) scale(1.4,1)" font-size="4.4" letter-spacing="0.3" text-anchor="middle" fill="#111" style="stroke-width:0.2px">10<tspan font-size="3.6" dx="0.5" dy="-2.3">1</tspan></text>
<line x1="357.0" y1="377" x2="357.0" y2="379" stroke="#333" stroke-width="0.8"/>
<text transform="translate(357.3,384.3) scale(1.4,1)" font-size="4.4" letter-spacing="0.3" text-anchor="middle" fill="#111" style="stroke-width:0.2px">10<tspan font-size="3.6" dx="0.5" dy="-2.3">2</tspan></text>
<line x1="379.0" y1="377" x2="379.0" y2="379" stroke="#333" stroke-width="0.8"/>
<text transform="translate(379.3,384.3) scale(1.4,1)" font-size="4.4" letter-spacing="0.3" text-anchor="middle" fill="#111" style="stroke-width:0.2px">10<tspan font-size="3.6" dx="0.5" dy="-2.3">3</tspan></text>
<line x1="401.0" y1="377" x2="401.0" y2="379" stroke="#333" stroke-width="0.8"/>
<text transform="translate(401.3,384.3) scale(1.4,1)" font-size="4.4" letter-spacing="0.3" text-anchor="middle" fill="#111" style="stroke-width:0.2px">10<tspan font-size="3.6" dx="0.5" dy="-2.3">4</tspan></text>
<rect x="424.2" y="312.7" width="89.09999999999997" height="64.90000000000003" fill="none" stroke="#6a6a6a" stroke-width="1.2"/>
<line x1="422.4" y1="377.6" x2="424.2" y2="377.6" stroke="#555" stroke-width="0.6"/>
<line x1="422.4" y1="375.2821428571429" x2="424.2" y2="375.2821428571429" stroke="#555" stroke-width="0.6"/>
<line x1="422.4" y1="372.9642857142857" x2="424.2" y2="372.9642857142857" stroke="#555" stroke-width="0.6"/>
<line x1="422.4" y1="370.6464285714286" x2="424.2" y2="370.6464285714286" stroke="#555" stroke-width="0.6"/>
<line x1="422.4" y1="368.3285714285714" x2="424.2" y2="368.3285714285714" stroke="#555" stroke-width="0.6"/>
<line x1="422.4" y1="366.0107142857143" x2="424.2" y2="366.0107142857143" stroke="#555" stroke-width="0.6"/>
<line x1="422.4" y1="363.6928571428572" x2="424.2" y2="363.6928571428572" stroke="#555" stroke-width="0.6"/>
<line x1="422.4" y1="361.375" x2="424.2" y2="361.375" stroke="#555" stroke-width="0.6"/>
<line x1="422.4" y1="359.0571428571429" x2="424.2" y2="359.0571428571429" stroke="#555" stroke-width="0.6"/>
<line x1="422.4" y1="356.7392857142857" x2="424.2" y2="356.7392857142857" stroke="#555" stroke-width="0.6"/>
<line x1="422.4" y1="354.4214285714286" x2="424.2" y2="354.4214285714286" stroke="#555" stroke-width="0.6"/>
<line x1="422.4" y1="352.10357142857146" x2="424.2" y2="352.10357142857146" stroke="#555" stroke-width="0.6"/>
<line x1="422.4" y1="349.7857142857143" x2="424.2" y2="349.7857142857143" stroke="#555" stroke-width="0.6"/>
<line x1="422.4" y1="347.46785714285716" x2="424.2" y2="347.46785714285716" stroke="#555" stroke-width="0.6"/>
<line x1="422.4" y1="345.15" x2="424.2" y2="345.15" stroke="#555" stroke-width="0.6"/>
<line x1="422.4" y1="342.83214285714286" x2="424.2" y2="342.83214285714286" stroke="#555" stroke-width="0.6"/>
<line x1="422.4" y1="340.51428571428573" x2="424.2" y2="340.51428571428573" stroke="#555" stroke-width="0.6"/>
<line x1="422.4" y1="338.19642857142856" x2="424.2" y2="338.19642857142856" stroke="#555" stroke-width="0.6"/>
<line x1="422.4" y1="335.87857142857143" x2="424.2" y2="335.87857142857143" stroke="#555" stroke-width="0.6"/>
<line x1="422.4" y1="333.5607142857143" x2="424.2" y2="333.5607142857143" stroke="#555" stroke-width="0.6"/>
<line x1="422.4" y1="331.24285714285713" x2="424.2" y2="331.24285714285713" stroke="#555" stroke-width="0.6"/>
<line x1="422.4" y1="328.925" x2="424.2" y2="328.925" stroke="#555" stroke-width="0.6"/>
<line x1="422.4" y1="326.60714285714283" x2="424.2" y2="326.60714285714283" stroke="#555" stroke-width="0.6"/>
<line x1="422.4" y1="324.2892857142857" x2="424.2" y2="324.2892857142857" stroke="#555" stroke-width="0.6"/>
<line x1="422.4" y1="321.9714285714286" x2="424.2" y2="321.9714285714286" stroke="#555" stroke-width="0.6"/>
<line x1="422.4" y1="319.6535714285714" x2="424.2" y2="319.6535714285714" stroke="#555" stroke-width="0.6"/>
<line x1="422.4" y1="317.3357142857143" x2="424.2" y2="317.3357142857143" stroke="#555" stroke-width="0.6"/>
<line x1="422.4" y1="315.0178571428571" x2="424.2" y2="315.0178571428571" stroke="#555" stroke-width="0.6"/>
<line x1="422.4" y1="312.7" x2="424.2" y2="312.7" stroke="#555" stroke-width="0.6"/>
<line x1="421.0" y1="377.6" x2="424.2" y2="377.6" stroke="#222" stroke-width="0.9"/>
<text transform="translate(417.0,377.6) rotate(-90) scale(1.0,1.25)" x="0" y="0" font-size="4.5" text-anchor="middle" fill="#000" style="stroke-width:0.35px">0</text>
<line x1="421.0" y1="368.3285714285714" x2="424.2" y2="368.3285714285714" stroke="#222" stroke-width="0.9"/>
<text transform="translate(417.0,368.3285714285714) rotate(-90) scale(1.0,1.25)" x="0" y="0" font-size="4.5" text-anchor="middle" fill="#000" style="stroke-width:0.35px">20</text>
<line x1="421.0" y1="359.0571428571429" x2="424.2" y2="359.0571428571429" stroke="#222" stroke-width="0.9"/>
<text transform="translate(417.0,359.0571428571429) rotate(-90) scale(1.0,1.25)" x="0" y="0" font-size="4.5" text-anchor="middle" fill="#000" style="stroke-width:0.35px">40</text>
<line x1="421.0" y1="349.7857142857143" x2="424.2" y2="349.7857142857143" stroke="#222" stroke-width="0.9"/>
<text transform="translate(417.0,349.7857142857143) rotate(-90) scale(1.0,1.25)" x="0" y="0" font-size="4.5" text-anchor="middle" fill="#000" style="stroke-width:0.35px">60</text>
<line x1="421.0" y1="340.51428571428573" x2="424.2" y2="340.51428571428573" stroke="#222" stroke-width="0.9"/>
<text transform="translate(417.0,340.51428571428573) rotate(-90) scale(1.0,1.25)" x="0" y="0" font-size="4.5" text-anchor="middle" fill="#000" style="stroke-width:0.35px">80</text>
<line x1="421.0" y1="331.24285714285713" x2="424.2" y2="331.24285714285713" stroke="#222" stroke-width="0.9"/>
<text transform="translate(417.0,331.24285714285713) rotate(-90) scale(1.0,1.25)" x="0" y="0" font-size="4.5" text-anchor="middle" fill="#000" style="stroke-width:0.35px">100</text>
<line x1="421.0" y1="321.9714285714286" x2="424.2" y2="321.9714285714286" stroke="#222" stroke-width="0.9"/>
<text transform="translate(417.0,321.1714285714286) rotate(-90) scale(1.0,1.25)" x="0" y="0" font-size="4.5" text-anchor="middle" fill="#000" style="stroke-width:0.35px">120</text>
<line x1="421.0" y1="312.7" x2="424.2" y2="312.7" stroke="#222" stroke-width="0.9"/>
<text transform="translate(417.0,311.9) rotate(-90) scale(1.0,1.25)" x="0" y="0" font-size="4.5" text-anchor="middle" fill="#000" style="stroke-width:0.35px">140</text>
<line x1="424.2" y1="312.4" x2="424.2" y2="378.1" stroke="#111" stroke-width="1.4"/>
<line x1="424.2" y1="377.6" x2="513.3" y2="377.6" stroke="#222" stroke-width="1.3"/>
<line x1="424.2" y1="377.6" x2="424.2" y2="379.6" stroke="#333" stroke-width="0.8"/>
<text transform="translate(424.5,384.3) scale(1.4,1)" font-size="4.4" letter-spacing="0.3" text-anchor="middle" fill="#111" style="stroke-width:0.2px">10<tspan font-size="3.6" dx="0.5" dy="-2.3">0</tspan></text>
<line x1="446.47499999999997" y1="377.6" x2="446.47499999999997" y2="379.6" stroke="#333" stroke-width="0.8"/>
<text transform="translate(446.8,384.3) scale(1.4,1)" font-size="4.4" letter-spacing="0.3" text-anchor="middle" fill="#111" style="stroke-width:0.2px">10<tspan font-size="3.6" dx="0.5" dy="-2.3">1</tspan></text>
<line x1="468.75" y1="377.6" x2="468.75" y2="379.6" stroke="#333" stroke-width="0.8"/>
<text transform="translate(469.1,384.3) scale(1.4,1)" font-size="4.4" letter-spacing="0.3" text-anchor="middle" fill="#111" style="stroke-width:0.2px">10<tspan font-size="3.6" dx="0.5" dy="-2.3">2</tspan></text>
<line x1="491.025" y1="377.6" x2="491.025" y2="379.6" stroke="#333" stroke-width="0.8"/>
<text transform="translate(491.3,384.3) scale(1.4,1)" font-size="4.4" letter-spacing="0.3" text-anchor="middle" fill="#111" style="stroke-width:0.2px">10<tspan font-size="3.6" dx="0.5" dy="-2.3">3</tspan></text>
<line x1="513.3" y1="377.6" x2="513.3" y2="379.6" stroke="#333" stroke-width="0.8"/>
<text transform="translate(513.6,384.3) scale(1.4,1)" font-size="4.4" letter-spacing="0.3" text-anchor="middle" fill="#111" style="stroke-width:0.2px">10<tspan font-size="3.6" dx="0.5" dy="-2.3">4</tspan></text>
<text transform="translate(289.5,261.7) rotate(-90) scale(1.0,1.0)" x="0" y="0" font-size="13.0" text-anchor="middle" fill="#000" >Counts</text>
<text transform="translate(289.6,344.1) rotate(-90) scale(1.0,1.0)" x="0" y="0" font-size="13.0" text-anchor="middle" fill="#000" >Counts</text>
<text x="348.9" y="407.6" font-size="15.6" text-anchor="middle" fill="#000" >Perforin</text>
<text transform="translate(467.1,407.7) scale(1.065,1.0)" x="0" y="0" font-size="15" text-anchor="middle" fill="#000" >Granzyme A</text>
<path d="M312.6,266.5 L313.7,278.0 L315.0,292.5 L316.6,287.0 L318.0,273.0 L319.8,258.5 L321.2,248.0 L322.4,242.0 L323.7,243.2 L325.0,249.0 L326.0,258.5 L327.2,268.0 L328.4,277.4 L330.0,289.2 L331.5,293.9 L333.0,295.2 L345.0,295.6 L380.0,295.8" fill="none" stroke="#2a2a2a" stroke-width="1.0" stroke-linejoin="round"/>
<path d="M314.3,295.6 L322.0,295.3 L328.0,294.8 L332.0,294.2 L335.0,293.4 L338.6,292.2 L341.6,290.4 L343.4,288.6 L345.9,284.4 L348.3,277.7 L350.1,270.5 L351.3,264.5 L352.5,262.1 L354.3,261.5 L356.1,263.9 L357.9,269.3 L359.7,274.1 L361.5,278.3 L364.0,283.8 L366.4,289.8 L368.8,294.6 L371.2,295.8 L400.5,296.2" fill="none" stroke="#000" stroke-width="1.8" stroke-linejoin="round"/>
<path d="M424.5,295.6 L432.2,295.1 L438.9,294.0 L441.5,289.2 L443.2,279.1 L444.8,263.8 L446.5,243.5 L447.7,234.2 L448.7,243.5 L449.9,258.8 L451.6,272.3 L454.1,279.1 L455.8,285.8 L457.5,292.6 L459.2,295.1 L475.0,295.5" fill="none" stroke="#2a2a2a" stroke-width="1.0" stroke-linejoin="round"/>
<path d="M440.0,295.8 L460.0,295.5 L473.3,295.2 L477.3,294.4 L481.2,292.8 L483.9,288.8 L487.2,283.5 L489.2,276.9 L491.2,268.9 L493.2,262.3 L494.8,258.3 L496.5,262.3 L498.5,270.2 L500.5,278.2 L502.5,284.8 L504.5,290.8 L507.1,295.2 L512.8,296.1" fill="none" stroke="#000" stroke-width="1.8" stroke-linejoin="round"/>
<path d="M313.6,336.0 L313.9,352.0 L314.5,370.0 L315.3,374.5 L316.5,370.0 L319.3,354.0 L321.8,340.0 L323.6,331.0 L324.6,328.8 L325.8,333.0 L327.5,346.0 L329.0,365.0 L331.9,372.2 L335.4,375.1 L345.0,375.8" fill="none" stroke="#2a2a2a" stroke-width="1.0" stroke-linejoin="round"/>
<path d="M315.1,375.4 L321.8,374.3 L326.9,371.8 L332.0,368.4 L337.1,365.0 L340.5,362.5 L343.0,359.9 L344.7,356.5 L346.4,357.4 L348.1,354.8 L349.8,353.1 L351.5,356.5 L353.1,359.9 L355.7,364.1 L358.2,368.4 L360.8,371.8 L364.1,374.3 L369.2,375.5 L375.0,376.0 L400.5,376.3" fill="none" stroke="#000" stroke-width="1.8" stroke-linejoin="round"/>
<path d="M425.0,376.5 L427.1,376.0 L429.6,374.6 L431.0,375.5 L433.0,369.2 L435.5,355.7 L438.1,345.5 L440.6,338.8 L442.0,336.2 L444.0,343.8 L446.5,354.0 L448.2,364.1 L449.9,372.6 L452.5,375.1 L456.0,376.0" fill="none" stroke="#2a2a2a" stroke-width="1.0" stroke-linejoin="round"/>
<path d="M452.0,376.6 L455.0,376.1 L459.0,374.8 L463.0,373.1 L467.0,373.5 L470.9,371.7 L474.9,370.2 L478.2,366.8 L481.6,363.5 L484.2,360.6 L486.9,362.2 L488.9,358.9 L490.9,357.5 L493.2,356.9 L495.5,360.2 L497.5,363.5 L499.5,368.2 L501.5,372.1 L504.1,374.8 L508.1,376.1 L513.0,376.8" fill="none" stroke="#000" stroke-width="1.8" stroke-linejoin="round"/>
</svg>
</body></html>
